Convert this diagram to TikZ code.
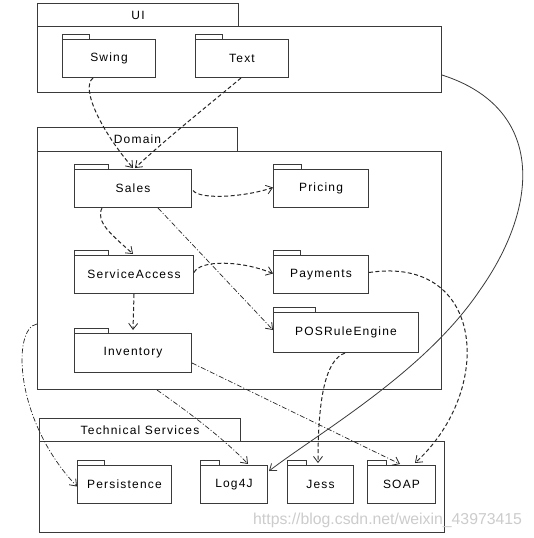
\documentclass[tikz,border=0pt]{standalone}
\usepackage{fontspec}
\setmainfont{Liberation Sans}
\newfontfamily\diagfont{Liberation Sans}[LetterSpace=10]
\usetikzlibrary{arrows.meta,calc}
\definecolor{linec}{HTML}{3A3A3A}
\tikzset{
  box/.style={draw=linec, line width=1pt, rectangle, anchor=north west, inner sep=0pt,
              font=\diagfont\fontsize{12}{14}\selectfont, text=black},
  pkgtab/.style={draw=linec, line width=1pt},
  dep/.style={draw=black!85, line width=1pt, dash pattern=on 4pt off 2.5pt,
              -{Straight Barb[length=6pt,width=9pt,line width=0.8pt]}},
  thindep/.style={dep, line width=0.7pt, dash pattern=on 5pt off 2pt on 1pt off 2pt},
  solidlink/.style={draw=linec, line width=0.8pt,
              -{Straight Barb[length=6pt,width=9pt,line width=0.8pt]}},
  wm/.style={text=black!20, font=\fontsize{15.8}{18}\selectfont, inner sep=0pt}
}
\begin{document}
\begin{tikzpicture}[x=1pt,y=-1pt]
\useasboundingbox (0,0) rectangle (533,538);
\fill[white] (0,0) rectangle (533,538);

% UI layer
\node[box, minimum width=201pt, minimum height=23pt] (uitab) at (37,3) {UI};
\node[box, minimum width=404pt, minimum height=66pt] (ui) at (37,26) {};
\node[box, minimum width=93pt, minimum height=38pt] (swing) at (62,39) {Swing};
\node[box, minimum width=93pt, minimum height=38pt] (text) at (195,39) {Text};
\draw[pkgtab] (swing.north west) rectangle ++(27,-5);
\draw[pkgtab] (text.north west) rectangle ++(27,-5);

% Domain layer
\node[box, minimum width=200pt, minimum height=24pt] (domtab) at (37,127) {Domain};
\node[box, minimum width=404pt, minimum height=238pt] (domain) at (37,151) {};
\node[box, minimum width=117pt, minimum height=38pt] (sales) at (74,169) {Sales};
\node[box, minimum width=95pt, minimum height=38pt] (pricing) at (273,169) {Pricing};
\node[box, minimum width=119pt, minimum height=38pt] (sacc) at (74,255) {ServiceAccess};
\node[box, minimum width=95pt, minimum height=38pt] (payments) at (273,255) {Payments};
\node[box, minimum width=145pt, minimum height=40pt] (pos) at (273,312) {POSRuleEngine};
\node[box, minimum width=117pt, minimum height=39pt] (inv) at (74,333) {Inventory};
\draw[pkgtab] (sales.north west) rectangle ++(34,-5);
\draw[pkgtab] (pricing.north west) rectangle ++(28,-5);
\draw[pkgtab] (sacc.north west) rectangle ++(34,-5);
\draw[pkgtab] (payments.north west) rectangle ++(27,-5);
\draw[pkgtab] (pos.north west) rectangle ++(42,-5);
\draw[pkgtab] (inv.north west) rectangle ++(34,-5);

% Technical services layer
\node[box, minimum width=201pt, minimum height=23pt] (tstab) at (39,418) {Technical Services};
\node[box, minimum width=405pt, minimum height=91pt] (ts) at (39,441) {};
\node[box, minimum width=94pt, minimum height=38pt] (pers) at (77,465) {Persistence};
\node[box, minimum width=67pt, minimum height=38pt] (log) at (200,465) {Log4J};
\node[box, minimum width=66pt, minimum height=38pt] (jess) at (287,465) {Jess};
\node[box, minimum width=68pt, minimum height=38pt] (soap) at (367,465) {SOAP};
\draw[pkgtab] (pers.north west) rectangle ++(27,-5);
\draw[pkgtab] (log.north west) rectangle ++(19,-5);
\draw[pkgtab] (jess.north west) rectangle ++(19,-5);
\draw[pkgtab] (soap.north west) rectangle ++(19,-5);

% dependencies
\draw[dep] ($(swing.south west)+(31,0)$) .. controls (80,88) and (102,132) .. ($(sales.north west)+(59,-1)$);
\draw[dep] ($(text.south west)+(46,0)$) .. controls (200,112) and (165,140) .. ($(sales.north west)+(61,-1)$);
\draw[solidlink] ($(ui.north east)+(0,49)$) .. controls (545,108) and (540,205) .. (480,290)
   .. controls (425,372) and (320,432) .. ($(log.north east)+(1,6)$);
\draw[dep] ($(sales.east)+(1,2)$) .. controls (200,200) and (245,197) .. ($(pricing.west)+(0,-1)$);
\draw[dep] ($(sales.south west)+(28,0)$) .. controls (95,222) and (112,235) .. ($(sacc.north west)+(59,-1)$);
\draw[thindep] ($(sales.south west)+(84,0)$) -- ($(pos.north west)+(0,18)$);
\draw[dep] ($(sacc.east)+(0,-2)$) .. controls (200,260) and (240,260) .. ($(payments.west)+(0,-1)$);
\draw[dep] (sacc.south) -- ($(inv.north)+(0,-3)$);
\draw[thindep] ($(domain.north west)+(0,173)$) .. controls (12,328) and (14,420) .. ($(pers.west)+(0,2)$);
\draw[thindep] ($(domain.south west)+(120,0)$) .. controls (200,420) and (230,445) .. ($(log.north west)+(48,-1)$);
\draw[thindep] ($(inv.east)+(0,10)$) -- ($(soap.north west)+(33,-1)$);
\draw[dep] ($(payments.east)+(0,-2)$) .. controls (485,255) and (495,390) .. ($(soap.north west)+(48,-2)$);
\draw[dep] ($(pos.south west)+(72,0)$) .. controls (325,360) and (318,400) .. ($(jess.north west)+(31,-2)$);

% watermark
\node[wm, anchor=west] (wmark) at (253,520) {https://blog.csdn.net/weixin\_43973415};
\end{tikzpicture}
\end{document}
